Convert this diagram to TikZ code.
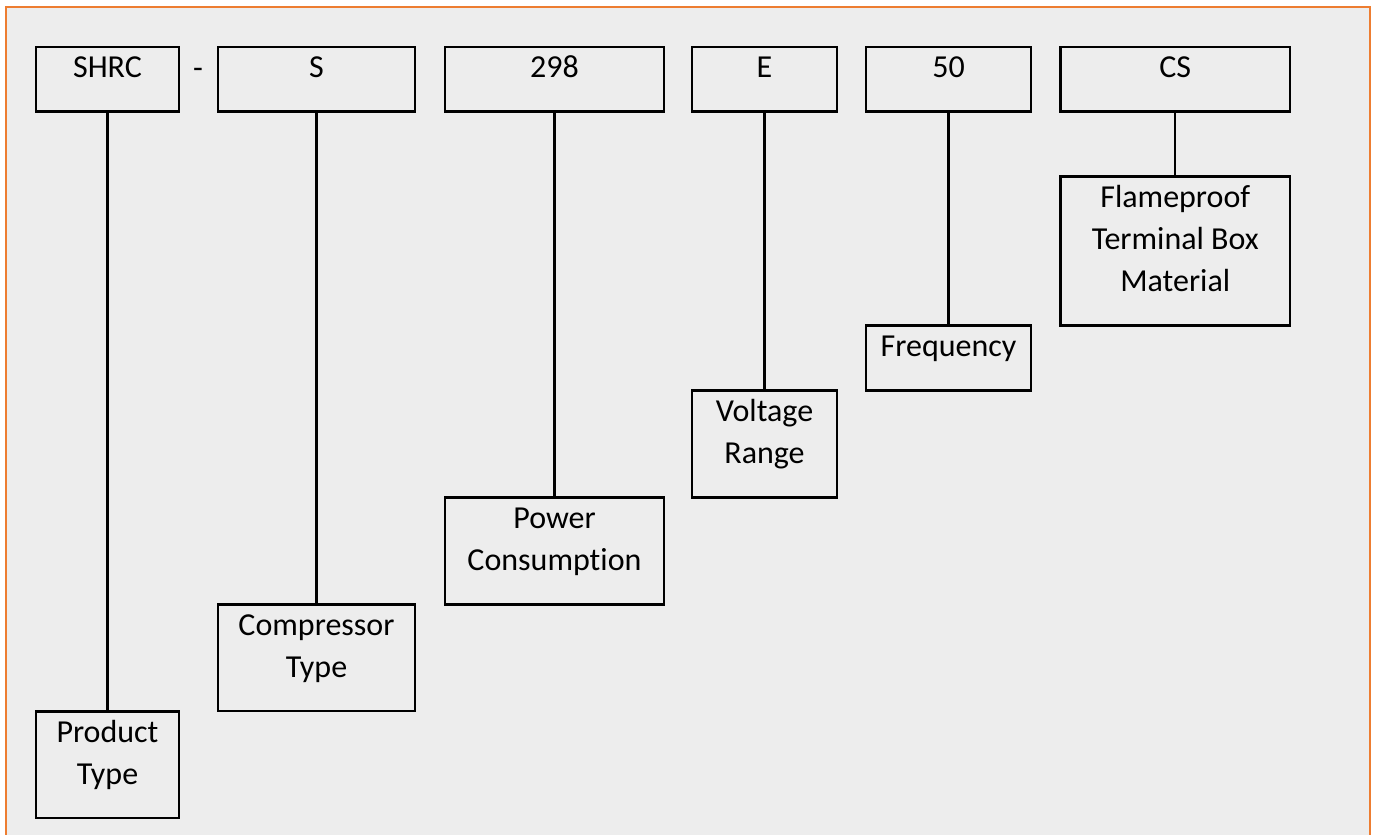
\documentclass[tikz,border=0pt]{standalone}
\usepackage{fontspec}
\setmainfont{Carlito}[Ligatures={NoCommon}]
\definecolor{framec}{HTML}{ED7D31}
\definecolor{bgc}{HTML}{EDEDED}
\begin{document}
\begin{tikzpicture}[x=1pt,y=-1pt,
  codebox/.style={draw=black, line width=2.2pt, inner sep=0pt, minimum height=64.5pt},
  descbox/.style={draw=black, line width=2.2pt, inner sep=0pt},
  txt/.style={anchor=north, inner sep=0pt, align=center, font=\fontsize{32}{42}\selectfont},
  link/.style={draw=black, line width=2.2pt}]
\useasboundingbox (0,0) rectangle (1377,835);
\fill[white] (0,0) rectangle (1377,835);
\draw[framec, line width=2pt, fill=bgc] (6,6.5) rectangle (1370,850);
\newcommand{\fl}{\rule{0pt}{26pt}}
% top code boxes
\node[codebox, minimum width=143pt] (shrc) at (107.5,79.25) {};
\node[codebox, minimum width=197pt] (s) at (316.5,79.25) {};
\node[codebox, minimum width=219pt] (n298) at (554.5,79.25) {};
\node[codebox, minimum width=145pt] (e) at (764.5,79.25) {};
\node[codebox, minimum width=165pt] (n50) at (948.5,79.25) {};
\node[codebox, minimum width=229.5pt] (cs) at (1175.25,79.25) {};
% description boxes
\node[descbox, minimum width=143pt, minimum height=106.5pt] (prod) at (107.5,764.75) {};
\node[descbox, minimum width=197pt, minimum height=106.5pt] (comp) at (316.5,657.75) {};
\node[descbox, minimum width=219pt, minimum height=107pt] (pow) at (554.5,551) {};
\node[descbox, minimum width=145pt, minimum height=107pt] (volt) at (764.5,444) {};
\node[descbox, minimum width=165pt, minimum height=65pt] (freq) at (948.5,358) {};
\node[descbox, minimum width=229.5pt, minimum height=149pt] (flame) at (1175.25,251) {};
% texts
\node[txt] (shrcT) at ([yshift=-5.5pt]shrc.north) {\fl SHRC};
\node[txt] (sT) at ([yshift=-5.5pt]s.north) {\fl S};
\node[txt] (n298T) at ([yshift=-5.5pt]n298.north) {\fl 298};
\node[txt] (eT) at ([yshift=-5.5pt]e.north) {\fl E};
\node[txt] (n50T) at ([yshift=-5.5pt]n50.north) {\fl 50};
\node[txt] (csT) at ([yshift=-5.5pt]cs.north) {\fl CS};
\node[txt] (prodT) at ([yshift=-5.5pt]prod.north) {\fl Product\\Type};
\node[txt] (compT) at ([yshift=-5.5pt]comp.north) {\fl Compressor\\Type};
\node[txt] (powT) at ([yshift=-5.5pt]pow.north) {\fl Power\\Consumption};
\node[txt] (voltT) at ([yshift=-5.5pt]volt.north) {\fl Voltage\\Range};
\node[txt] (freqT) at ([yshift=-5.5pt]freq.north) {\fl Frequency};
\node[txt] (flameT) at ([yshift=-5.5pt]flame.north) {\fl Flameproof\\Terminal Box\\Material};
\node[anchor=base, inner sep=0pt, font=\fontsize{32}{42}\selectfont] (dash) at (198,78) {-};
% connectors
\draw[link] (shrc.south) -- (prod.north);
\draw[link] (s.south) -- (comp.north);
\draw[link] (n298.south) -- (pow.north);
\draw[link] (e.south) -- (volt.north);
\draw[link] (n50.south) -- (freq.north);
\draw[link] (cs.south) -- (flame.north);
\end{tikzpicture}
\end{document}
